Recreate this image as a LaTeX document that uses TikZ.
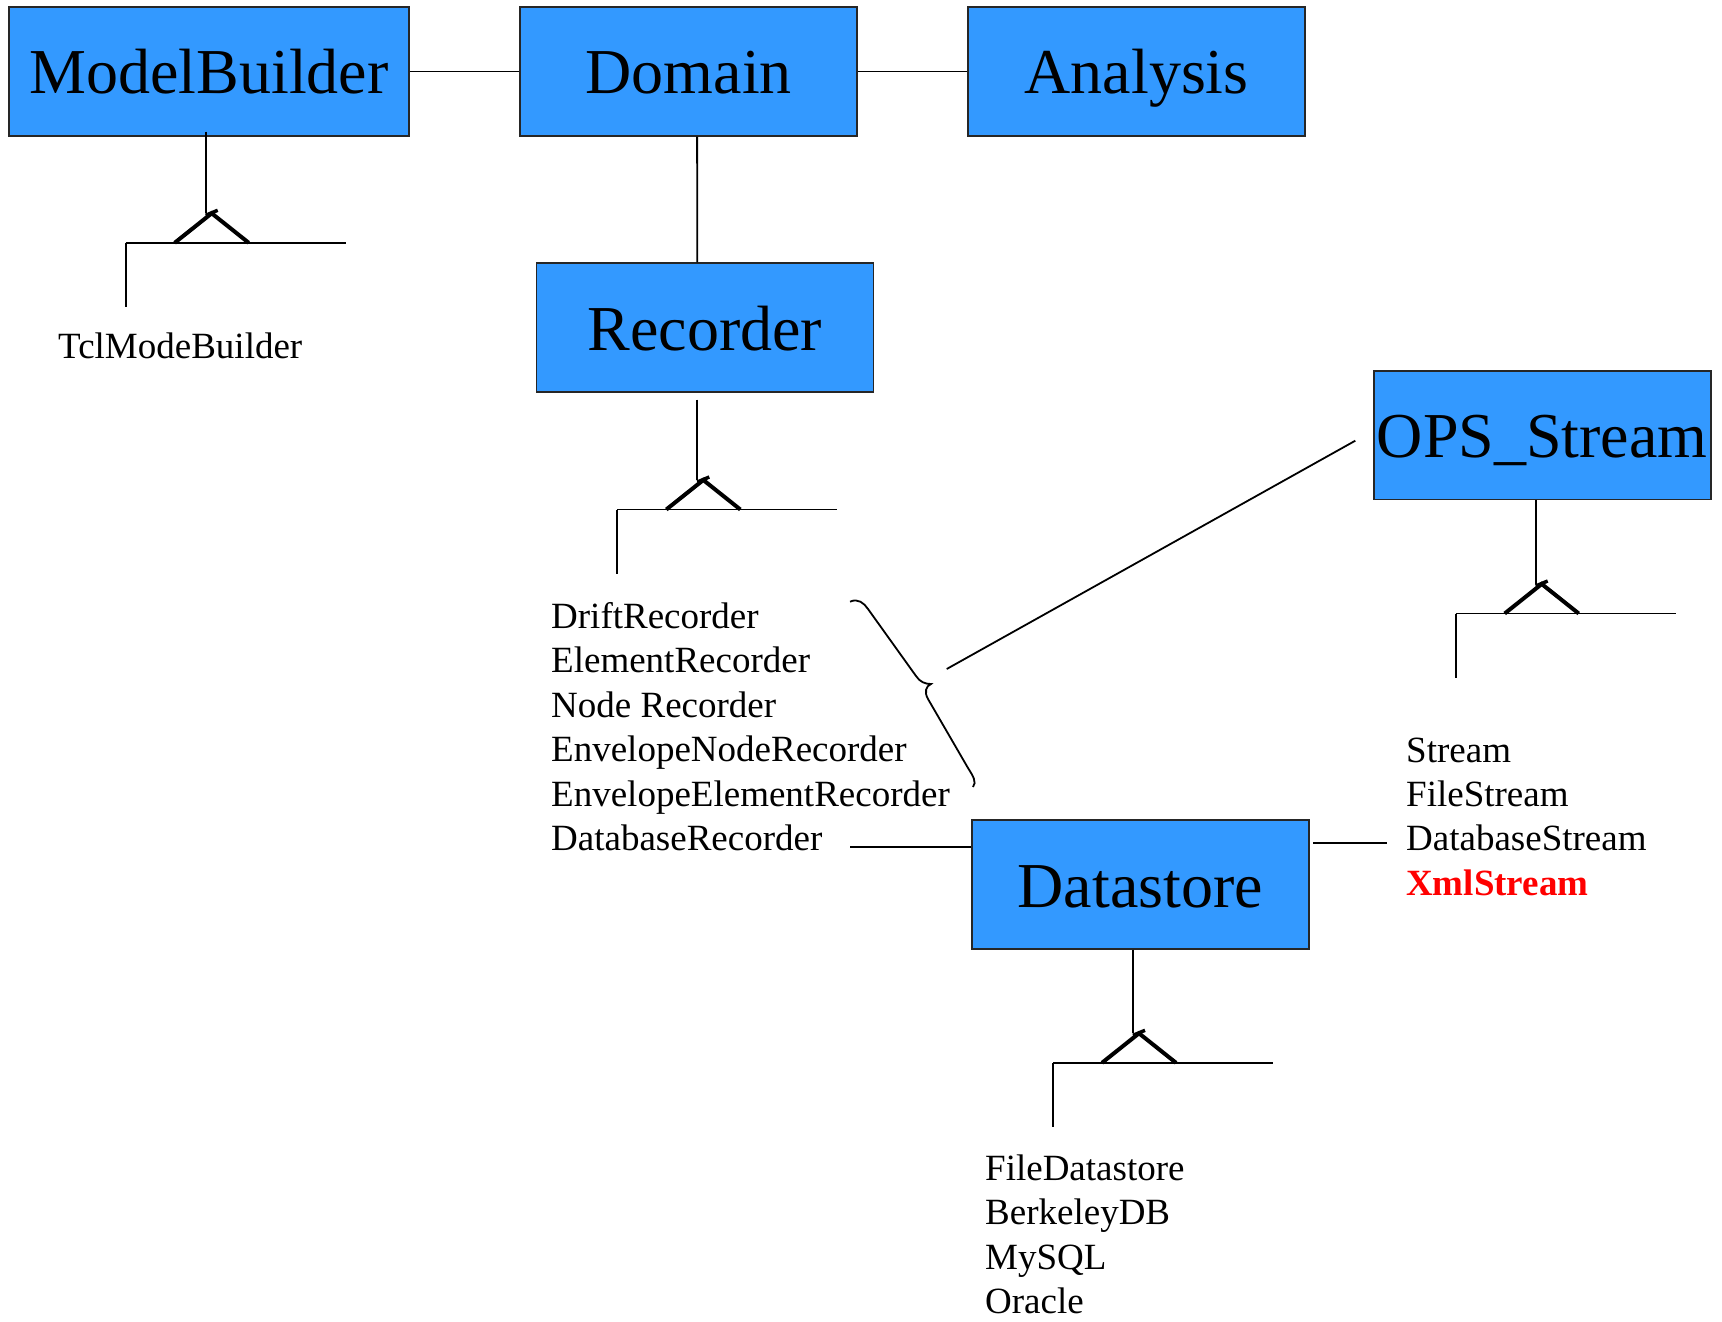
\documentclass[tikz,border=0pt]{standalone}
\usepackage{fontspec}
\setmainfont{Liberation Serif}[Ligatures=CommonOff]
\definecolor{classblue}{HTML}{3399FF}
\begin{document}
\begin{tikzpicture}[x=1pt,y=-1pt,
  classbox/.style={draw=black!85, line width=1.8pt, fill=classblue,
    minimum width=337pt, minimum height=128.5pt, inner sep=0pt,
    text height=47pt, text depth=2pt, font=\fontsize{64}{70}\selectfont},
  member/.style={anchor=base west, inner sep=0pt, font=\fontsize{37}{44}\selectfont},
  link/.style={line width=1.8pt},
  genset/.pic={
    \draw[link] (-86,29.5) -- (134,29.5);
    \draw[link] (-86,29.5) -- (-86,94);
    \draw[line width=4pt] (-37,29.5) -- (0,0) -- (37,29.5);
    \draw[line width=3.5pt] (-6,2) -- (6,-3);
  }]
\useasboundingbox[fill=white] (0,0) rectangle (1722,1322);

% classes
\node[classbox, minimum width=400pt] (mb) at (209,71.5) {ModelBuilder};
\node[classbox] (dom) at (688.8,71.5) {Domain};
\node[classbox] (ana) at (1136.6,71.5) {Analysis};
\node[classbox] (rec) at (705,327.5) {Recorder};
\node[classbox] (ops) at (1542.2,435.2) {OPS\_Stream};
\node[classbox] (dst) at (1140.3,884.5) {Datastore};

% associations
\draw[link] (mb.east) -- (dom.west);
\draw[link] (dom.east) -- (ana.west);
\draw[link] ([xshift=8.3pt]dom.south) -- ([xshift=-7.7pt]rec.north);

% generalisation symbols
\coordinate (mbG) at (211.7,213.3);
\coordinate (recG) at (703.3,480);
\coordinate (opsG) at (1541.7,584);
\coordinate (dstG) at (1139,1033.3);
\draw[link] ([xshift=-3pt,yshift=5pt]mb.south) -- ([xshift=-5.7pt]mbG);
\draw[link] ([xshift=-7.7pt,yshift=-7pt]rec.south) -- ([xshift=-6pt]recG);
\draw[link] ([xshift=-6.5pt]ops.south) -- ([xshift=-6pt]opsG);
\draw[link] ([xshift=-7.3pt]dst.south) -- ([xshift=-6pt]dstG);
\pic at (mbG) {genset};
\pic at (recG) {genset};
\pic at (opsG) {genset};
\pic at (dstG) {genset};

% subclasses
\node[member] (tcl) at (58,358.3) {TclModeBuilder};
\foreach \cls [count=\i from 0] in {DriftRecorder, ElementRecorder, Node Recorder,
    EnvelopeNodeRecorder, EnvelopeElementRecorder, DatabaseRecorder}
  \node[member] (r\i) at (551,{628.5+44.4*\i}) {\cls};
\foreach \cls [count=\i from 0] in {Stream, FileStream, DatabaseStream}
  \node[member] (s\i) at (1406,{762+44.4*\i}) {\cls};
\node[member, text=red, font=\fontsize{37}{44}\selectfont\bfseries] (s3) at (1406,895.2) {XmlStream};
\foreach \cls [count=\i from 0] in {FileDatastore, BerkeleyDB, MySQL, Oracle}
  \node[member] (d\i) at (985,{1180.7+44.2*\i}) {\cls};

% brace grouping the recorders
\draw[link] (850,601.7) .. controls (858,598) and (864,603) .. (868,609)
  -- (916,676) .. controls (920,682) and (925,684) .. (931,684)
  .. controls (926,686) and (924,692) .. (928,699)
  -- (968,768) .. controls (973,776) and (977,782) .. (973,787);
\coordinate (braceTip) at (946.7,669);
\draw[link] (braceTip) -- ([xshift=-17.5pt,yshift=-5.5pt]ops.west);

% datastore links
\coordinate (dbL) at (850,846.7);
\draw[link] (dbL) -- (dbL -| dst.west);
\coordinate (dbR) at (1386.7,842.7);
\path (dbR -| dst.east) ++(3.7,0) coordinate (dstR);
\draw[link] (dstR) -- (dbR);
\end{tikzpicture}
\end{document}
